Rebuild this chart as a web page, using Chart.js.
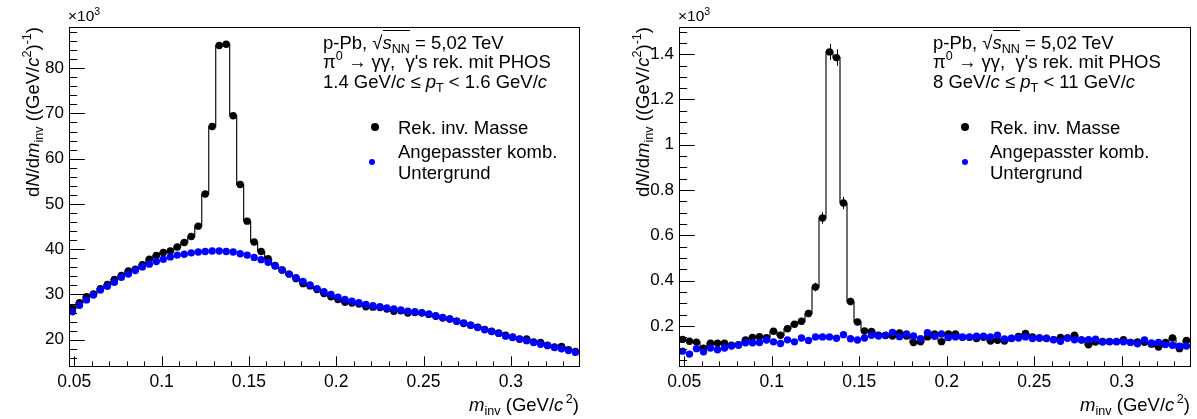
<!DOCTYPE html>
<html>
<head>
<meta charset="utf-8">
<script src="https://cdn.jsdelivr.net/npm/chart.js@4.4.1/dist/chart.umd.min.js"></script>
<style>
  body { margin: 0; background: #fff; }
  #page { position: relative; width: 1197px; height: 419px; overflow: hidden; background: #fff;
          font-family: "Liberation Sans", Arial, Helvetica, sans-serif; color: #000; }
  canvas { position: absolute; top: 0; }
  .txt { position: absolute; white-space: nowrap; line-height: 1; font-size: 18.5px; }
  .txt sub, .txt sup { font-size: 0.68em; line-height: 0; }
  .txt sub { vertical-align: -0.35em; }
  .txt sup { vertical-align: 0.6em; }
  .ov { border-top: 1px solid #000; padding-top: 1px; }
  .ytitle { position: absolute; width: 240px; text-align: right; white-space: nowrap; font-size: 18.5px;
            line-height: 20px; transform-origin: 0 0; transform: rotate(-90deg); }
  .ytitle sub, .ytitle sup, .xtitle sub, .xtitle sup { font-size: 0.68em; line-height: 0; }
  .ytitle sub, .xtitle sub { vertical-align: -0.35em; }
  .ytitle sup, .xtitle sup { vertical-align: 0.6em; }
  .xtitle { position: absolute; white-space: nowrap; font-size: 18.5px; line-height: 1; text-align: right; width: 200px; }
  .mark { position: absolute; border-radius: 50%; }
</style>
</head>
<body>
<div id="page">
  <canvas id="low-pt" width="598" height="419" style="left:0"></canvas>
  <canvas id="high-pt" width="599" height="419" style="left:598px"></canvas>

  <!-- left pad texts -->
  <div class="txt" style="left:68px;top:8px;font-size:15.5px">&times;10<sup>3</sup></div>
  <div class="ytitle" style="left:23px;top:267px">d<i>N</i>/d<i>m</i><sub>inv</sub> ((GeV/<i>c</i><sup>2</sup>)<sup>-1</sup>)</div>
  <div class="xtitle" style="left:379px;top:396px"><i>m</i><sub>inv</sub> (GeV/<i>c</i><sup>&#8201;2</sup>)</div>
  <div class="txt" style="left:323px;top:34px">p-Pb, &radic;<span class="ov"><i>s</i><sub>NN</sub></span> = 5,02 TeV</div>
  <div class="txt" style="left:323px;top:53px">&pi;<sup>0</sup> &rarr; &gamma;&gamma;,&nbsp; &gamma;'s rek. mit PHOS</div>
  <div class="txt" style="left:323px;top:73px">1.4 GeV/<i>c</i> &le; <i>p</i><sub>T</sub> &lt; 1.6 GeV/<i>c</i></div>
  <div class="mark" style="left:371px;top:123px;width:8px;height:8px;background:#000"></div>
  <div class="mark" style="left:369px;top:159px;width:6px;height:6px;background:#0000ff"></div>
  <div class="txt" style="left:398px;top:119px">Rek. inv. Masse</div>
  <div class="txt" style="left:398px;top:143px">Angepasster komb.</div>
  <div class="txt" style="left:398px;top:164px">Untergrund</div>

  <!-- right pad texts -->
  <div class="txt" style="left:678px;top:8px;font-size:15.5px">&times;10<sup>3</sup></div>
  <div class="ytitle" style="left:633px;top:267px">d<i>N</i>/d<i>m</i><sub>inv</sub> ((GeV/<i>c</i><sup>2</sup>)<sup>-1</sup>)</div>
  <div class="xtitle" style="left:990px;top:396px"><i>m</i><sub>inv</sub> (GeV/<i>c</i><sup>&#8201;2</sup>)</div>
  <div class="txt" style="left:933px;top:34px">p-Pb, &radic;<span class="ov"><i>s</i><sub>NN</sub></span> = 5,02 TeV</div>
  <div class="txt" style="left:933px;top:53px">&pi;<sup>0</sup> &rarr; &gamma;&gamma;,&nbsp; &gamma;'s rek. mit PHOS</div>
  <div class="txt" style="left:933px;top:73px">8 GeV/<i>c</i> &le; <i>p</i><sub>T</sub> &lt; 11 GeV/<i>c</i></div>
  <div class="mark" style="left:961px;top:123px;width:8px;height:8px;background:#000"></div>
  <div class="mark" style="left:962px;top:159px;width:6px;height:6px;background:#0000ff"></div>
  <div class="txt" style="left:990px;top:119px">Rek. inv. Masse</div>
  <div class="txt" style="left:990px;top:143px">Angepasster komb.</div>
  <div class="txt" style="left:990px;top:164px">Untergrund</div>
</div>

<script>
// bin centres of the invariant mass histograms (GeV/c^2)
const massBins = [
  0.049, 0.053, 0.057, 0.061, 0.065, 0.069, 0.073, 0.077, 0.081, 0.085,
  0.089, 0.093, 0.097, 0.101, 0.105, 0.109, 0.113, 0.117, 0.121, 0.125,
  0.129, 0.133, 0.137, 0.141, 0.145, 0.149, 0.153, 0.157, 0.161, 0.165,
  0.169, 0.173, 0.177, 0.181, 0.185, 0.189, 0.193, 0.197, 0.201, 0.205,
  0.209, 0.213, 0.217, 0.221, 0.225, 0.229, 0.233, 0.237, 0.241, 0.245,
  0.249, 0.253, 0.257, 0.261, 0.265, 0.269, 0.273, 0.277, 0.281, 0.285,
  0.289, 0.293, 0.297, 0.301, 0.305, 0.309, 0.313, 0.317, 0.321, 0.325,
  0.329, 0.333, 0.337,
];

// 1.4 <= pT < 1.6 GeV/c, in units of 10^3
const lowPtSignal = [
  26.9, 28.2, 29.5, 30.1, 31.3, 32.2, 33.3, 34.2, 35.2, 35.6,
  36.6, 37.8, 38.6, 39.3, 39.6, 40.5, 41.5, 42.8, 45.1, 52.2,
  67.1, 85.0, 85.3, 69.5, 54.3, 46.2, 41.6, 39.5, 37.9, 36.4,
  35.4, 34.5, 33.5, 32.4, 31.9, 31.1, 30.2, 29.5, 28.9, 28.3,
  28.1, 27.9, 27.3, 27.2, 27.1, 26.8, 26.3, 26.4, 25.9, 26.0,
  25.9, 25.6, 25.2, 24.8, 24.6, 24.1, 23.6, 23.2, 22.8, 22.3,
  21.9, 21.5, 21.0, 20.6, 20.1, 20.2, 19.5, 19.4, 18.8, 18.4,
  18.5, 17.8, 17.4,
];
const lowPtBackground = [
  26.2, 27.6, 28.8, 29.9, 31.0, 31.8, 32.7, 33.8, 34.5, 35.3,
  36.1, 36.7, 37.3, 37.8, 38.3, 38.7, 38.9, 39.2, 39.4, 39.5,
  39.6, 39.6, 39.5, 39.4, 39.0, 38.7, 38.2, 37.7, 37.1, 36.3,
  35.4, 34.5, 33.7, 32.9, 32.1, 31.3, 30.6, 30.0, 29.4, 28.9,
  28.5, 28.2, 27.8, 27.5, 27.3, 27.0, 26.8, 26.6, 26.3, 26.2,
  26.0, 25.7, 25.3, 24.9, 24.6, 24.1, 23.7, 23.2, 22.7, 22.2,
  21.8, 21.4, 20.8, 20.5, 20.2, 19.8, 19.4, 19.0, 18.7, 18.3,
  18.0, 17.6, 17.2,
];

// 8 <= pT < 11 GeV/c, in units of 10^3
const highPtSignal = [
  0.141, 0.133, 0.129, 0.102, 0.124, 0.124, 0.124, 0.115, 0.118, 0.138,
  0.150, 0.153, 0.148, 0.177, 0.159, 0.188, 0.208, 0.221, 0.255, 0.372,
  0.677, 1.410, 1.385, 0.743, 0.308, 0.218, 0.178, 0.176, 0.160, 0.158,
  0.156, 0.169, 0.156, 0.127, 0.130, 0.152, 0.165, 0.131, 0.165, 0.165,
  0.150, 0.150, 0.145, 0.150, 0.134, 0.137, 0.134, 0.145, 0.154, 0.167,
  0.152, 0.147, 0.145, 0.140, 0.150, 0.147, 0.159, 0.139, 0.117, 0.129,
  0.132, 0.130, 0.130, 0.140, 0.128, 0.130, 0.128, 0.120, 0.107, 0.128,
  0.147, 0.100, 0.136,
];
const highPtSignalErr = [
  0.012, 0.012, 0.012, 0.011, 0.012, 0.012, 0.012, 0.011, 0.011, 0.012,
  0.012, 0.012, 0.012, 0.013, 0.012, 0.013, 0.014, 0.014, 0.016, 0.019,
  0.026, 0.036, 0.036, 0.027, 0.017, 0.014, 0.013, 0.013, 0.012, 0.012,
  0.012, 0.013, 0.012, 0.011, 0.011, 0.012, 0.012, 0.011, 0.012, 0.012,
  0.012, 0.012, 0.012, 0.012, 0.011, 0.011, 0.011, 0.012, 0.012, 0.012,
  0.012, 0.012, 0.012, 0.012, 0.012, 0.012, 0.012, 0.011, 0.011, 0.011,
  0.011, 0.011, 0.011, 0.012, 0.011, 0.011, 0.011, 0.011, 0.010, 0.011,
  0.012, 0.010, 0.011,
];
const highPtBackground = [
  0.089, 0.076, 0.100, 0.086, 0.103, 0.095, 0.103, 0.112, 0.115, 0.126,
  0.126, 0.127, 0.138, 0.130, 0.123, 0.139, 0.130, 0.147, 0.136, 0.152,
  0.152, 0.152, 0.146, 0.162, 0.144, 0.138, 0.147, 0.159, 0.156, 0.159,
  0.172, 0.153, 0.165, 0.156, 0.144, 0.171, 0.155, 0.165, 0.149, 0.152,
  0.152, 0.152, 0.155, 0.155, 0.152, 0.159, 0.143, 0.146, 0.147, 0.152,
  0.145, 0.147, 0.146, 0.139, 0.133, 0.147, 0.139, 0.138, 0.140, 0.142,
  0.129, 0.132, 0.132, 0.130, 0.128, 0.122, 0.138, 0.125, 0.127, 0.118,
  0.115, 0.111, 0.112,
];

const massTicks = [0.05, 0.1, 0.15, 0.2, 0.25, 0.3];
const massTickLabels = ["0.05", "0.1", "0.15", "0.2", "0.25", "0.3"];
const lowPtTicks = [20, 30, 40, 50, 60, 70, 80];
const lowPtTickLabels = ["20", "30", "40", "50", "60", "70", "80"];
const highPtTicks = [0.2, 0.4, 0.6, 0.8, 1.0, 1.2, 1.4];
const highPtTickLabels = ["0.2", "0.4", "0.6", "0.8", "1", "1.2", "1.4"];

// ROOT style frame with ticks pointing inwards
const rootFrame = {
  id: "rootFrame",
  beforeDatasetsDraw(chart, args, opts) {
    if (!opts.errors) {
      return;
    }
    const { ctx, scales: { x, y } } = chart;
    ctx.save();
    ctx.strokeStyle = "#000";
    ctx.lineWidth = 1;
    opts.errors.forEach((err, i) => {
      const px = Math.round(x.getPixelForValue(massBins[i])) + 0.5;
      ctx.beginPath();
      ctx.moveTo(px, y.getPixelForValue(opts.values[i] - err));
      ctx.lineTo(px, y.getPixelForValue(opts.values[i] + err));
      ctx.stroke();
    });
    ctx.restore();
  },
  afterDatasetsDraw(chart, args, opts) {
    const { ctx, chartArea: a, scales: { x, y } } = chart;
    ctx.save();
    ctx.strokeStyle = "#000";
    ctx.lineWidth = 1;
    const l = Math.round(a.left) + 0.5;
    const r = Math.round(a.right) + 0.5;
    const t = Math.round(a.top) + 0.5;
    const b = Math.round(a.bottom) + 0.5;
    ctx.strokeRect(l, t, r - l, b - t);

    const xLen = (b - t) * 0.03;
    const yLen = (r - l) * 0.03;
    ctx.beginPath();
    for (let v = Math.ceil(x.min / opts.xMinor - 1e-6) * opts.xMinor; v <= x.max + 1e-9; v += opts.xMinor) {
      const px = Math.round(x.getPixelForValue(v)) + 0.5;
      const major = massTicks.some((m) => Math.abs(m - v) < 1e-6);
      ctx.moveTo(px, b);
      ctx.lineTo(px, b - (major ? xLen : xLen / 2));
    }
    for (let v = Math.ceil(y.min / opts.yMinor - 1e-6) * opts.yMinor; v <= y.max + 1e-9; v += opts.yMinor) {
      const py = Math.round(y.getPixelForValue(v)) + 0.5;
      const major = opts.yTicks.some((m) => Math.abs(m - v) < 1e-6);
      ctx.moveTo(l, py);
      ctx.lineTo(l + (major ? yLen : yLen / 2), py);
    }
    ctx.stroke();
    ctx.restore();
  },
};

function buildChart(canvasId, cfg) {
  const toPoints = (values) => massBins.map((m, i) => ({ x: m, y: values[i] }));
  return new Chart(document.getElementById(canvasId), {
    type: "line",
    data: {
      datasets: [
        {
          label: "Angepasster komb. Untergrund",
          data: toPoints(cfg.background),
          showLine: false,
          pointRadius: 3.7,
          pointBackgroundColor: "#0000ff",
          pointBorderWidth: 0,
          order: 0,
        },
        {
          label: "Rek. inv. Masse",
          data: toPoints(cfg.signal),
          stepped: "middle",
          borderColor: "#111",
          borderWidth: 1.2,
          pointRadius: 3.7,
          pointBackgroundColor: "#000",
          pointBorderWidth: 0,
          order: 1,
        },
      ],
    },
    plugins: [rootFrame],
    options: {
      responsive: false,
      animation: false,
      devicePixelRatio: 1,
      events: [],
      layout: { padding: { top: 27, right: cfg.padRight, left: 0, bottom: 0 } },
      plugins: {
        legend: { display: false },
        tooltip: { enabled: false },
        rootFrame: {
          xMinor: 0.01,
          yMinor: cfg.yMinor,
          yTicks: cfg.yTicks,
          errors: cfg.errors,
          values: cfg.signal,
        },
      },
      scales: {
        x: {
          type: "linear",
          min: 0.047,
          max: 0.339,
          grid: { display: false, drawTicks: false },
          border: { display: false },
          afterBuildTicks: (scale) => {
            scale.ticks = massTicks.map((v) => ({ value: v }));
          },
          afterFit: (scale) => {
            scale.height = 53;
          },
          ticks: {
            autoSkip: false,
            maxRotation: 0,
            padding: 6,
            color: "#000",
            font: { family: "'Liberation Sans', Arial, sans-serif", size: 17.5 },
            callback: (value, index) => massTickLabels[index],
          },
        },
        y: {
          type: "linear",
          min: cfg.yMin,
          max: cfg.yMax,
          grid: { display: false, drawTicks: false },
          border: { display: false },
          afterBuildTicks: (scale) => {
            scale.ticks = cfg.yTicks.map((v) => ({ value: v }));
          },
          afterFit: (scale) => {
            scale.width = cfg.axisLeft;
          },
          ticks: {
            autoSkip: false,
            padding: 5,
            color: "#000",
            font: { family: "'Liberation Sans', Arial, sans-serif", size: 17 },
            callback: (value, index) => cfg.yTickLabels[index],
          },
        },
      },
    },
  });
}

buildChart("low-pt", {
  signal: lowPtSignal,
  background: lowPtBackground,
  yMin: 14.2,
  yMax: 89.1,
  yTicks: lowPtTicks,
  yTickLabels: lowPtTickLabels,
  yMinor: 2,
  axisLeft: 69,
  padRight: 19,
});

buildChart("high-pt", {
  signal: highPtSignal,
  background: highPtBackground,
  errors: highPtSignalErr,
  yMin: 0.0235,
  yMax: 1.52,
  yTicks: highPtTicks,
  yTickLabels: highPtTickLabels,
  yMinor: 0.05,
  axisLeft: 81,
  padRight: 7,
});
</script>
</body>
</html>
